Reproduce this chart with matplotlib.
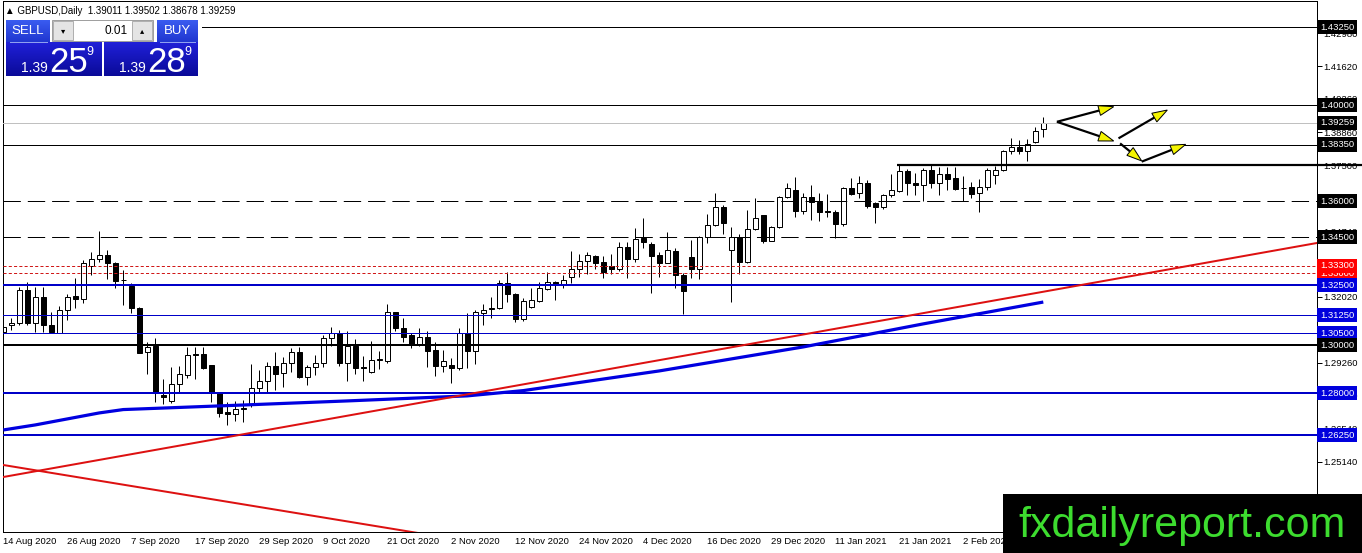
#GBPUSD daily chart, MT4 style, recreated with matplotlib
import numpy as np
import matplotlib
matplotlib.use('Agg')
import matplotlib.pyplot as plt
import matplotlib.font_manager as fm
from matplotlib.colors import LinearSegmentedColormap
from matplotlib.patches import Rectangle, Polygon
from matplotlib.transforms import blended_transform_factory

#Candles (14 Aug 2020 .. 16 Feb 2021)
opens = [1.3056, 1.3085, 1.3090, 1.3229, 1.3090, 1.3201, 1.3083, 1.3051, 1.3146, 1.3204,
         1.3190, 1.3329, 1.3357, 1.3375, 1.3343, 1.3272, 1.3246, 1.3153, 1.2969, 1.2996,
         1.2792, 1.2768, 1.2838, 1.2875, 1.2962, 1.2961, 1.2917, 1.2801, 1.2721, 1.2713,
         1.2733, 1.2749, 1.2819, 1.2851, 1.2913, 1.2882, 1.2924, 1.2969, 1.2868, 1.2907,
         1.2924, 1.3028, 1.3051, 1.2926, 1.2996, 1.2908, 1.2886, 1.2936, 1.2935, 1.3136,
         1.3069, 1.3042, 1.3004, 1.3032, 1.2979, 1.2914, 1.2917, 1.2906, 1.3049, 1.2976,
         1.3135, 1.3148, 1.3153, 1.3260, 1.3213, 1.3108, 1.3160, 1.3183, 1.3233, 1.3261,
         1.3250, 1.3285, 1.3317, 1.3350, 1.3372, 1.3344, 1.3329, 1.3317, 1.3410, 1.3357,
         1.3444, 1.3419, 1.3375, 1.3343, 1.3392, 1.3292, 1.3368, 1.3315, 1.3449, 1.3500,
         1.3574, 1.3396, 1.3451, 1.3347, 1.3482, 1.3542, 1.3435, 1.3490, 1.3615, 1.3646,
         1.3560, 1.3615, 1.3597, 1.3560, 1.3553, 1.3503, 1.3653, 1.3632, 1.3676, 1.3593,
         1.3574, 1.3625, 1.3643, 1.3726, 1.3674, 1.3667, 1.3729, 1.3676, 1.3713, 1.3694,
         1.3653, 1.3657, 1.3635, 1.3660, 1.3708, 1.3729, 1.3808, 1.3826, 1.3808, 1.3844,
         1.39011]
highs = [1.3132, 1.3111, 1.3243, 1.3264, 1.3243, 1.3243, 1.3139, 1.3163, 1.3213, 1.3278,
         1.3354, 1.3388, 1.3475, 1.3396, 1.3347, 1.3313, 1.3257, 1.3160, 1.3014, 1.3028,
         1.2857, 1.2910, 1.2913, 1.2993, 1.2993, 1.2993, 1.2917, 1.2806, 1.2764, 1.2768,
         1.2771, 1.2921, 1.2896, 1.2931, 1.2969, 1.2951, 1.2986, 1.2993, 1.2917, 1.2958,
         1.3042, 1.3074, 1.3063, 1.3060, 1.3024, 1.2954, 1.3017, 1.2975, 1.3171, 1.3138,
         1.3111, 1.3051, 1.3069, 1.3060, 1.3014, 1.2979, 1.2944, 1.3069, 1.3135, 1.3146,
         1.3169, 1.3199, 1.3271, 1.3306, 1.3215, 1.3194, 1.3236, 1.3261, 1.3303, 1.3267,
         1.3292, 1.3392, 1.3378, 1.3386, 1.3374, 1.3372, 1.3378, 1.3431, 1.3431, 1.3489,
         1.3531, 1.3431, 1.3386, 1.3469, 1.3406, 1.3299, 1.3438, 1.3454, 1.3546, 1.3632,
         1.3583, 1.3490, 1.3463, 1.3563, 1.3611, 1.3543, 1.3496, 1.3621, 1.3676, 1.3701,
         1.3635, 1.3667, 1.3632, 1.3629, 1.3563, 1.3660, 1.3694, 1.3704, 1.3688, 1.3595,
         1.3629, 1.3713, 1.3750, 1.3732, 1.3718, 1.3736, 1.3754, 1.3743, 1.3743, 1.3743,
         1.3704, 1.3681, 1.3690, 1.3736, 1.3746, 1.3813, 1.3861, 1.3854, 1.3857, 1.3910,
         1.39502]
lows = [1.3042, 1.3063, 1.3083, 1.3083, 1.3056, 1.3056, 1.3049, 1.3049, 1.3104, 1.3153,
        1.3174, 1.3292, 1.3347, 1.3274, 1.3236, 1.3167, 1.3132, 1.2965, 1.2879, 1.2764,
        1.2754, 1.2760, 1.2806, 1.2861, 1.2857, 1.2899, 1.2764, 1.2701, 1.2667, 1.2683,
        1.2678, 1.2743, 1.2799, 1.2801, 1.2813, 1.2826, 1.2889, 1.2861, 1.2833, 1.2875,
        1.2910, 1.2996, 1.2913, 1.2851, 1.2879, 1.2851, 1.2885, 1.2900, 1.2926, 1.3060,
        1.3014, 1.2986, 1.2996, 1.2907, 1.2871, 1.2889, 1.2843, 1.2896, 1.2906, 1.2921,
        1.3083, 1.3111, 1.3149, 1.3181, 1.3097, 1.3100, 1.3156, 1.3181, 1.3229, 1.3188,
        1.3239, 1.3257, 1.3285, 1.3294, 1.3317, 1.3281, 1.3294, 1.3308, 1.3278, 1.3347,
        1.3403, 1.3215, 1.3285, 1.3340, 1.3236, 1.3128, 1.3278, 1.3274, 1.3426, 1.3496,
        1.3463, 1.3181, 1.3296, 1.3343, 1.3479, 1.3426, 1.3433, 1.3486, 1.3611, 1.3535,
        1.3546, 1.3521, 1.3518, 1.3532, 1.3444, 1.3496, 1.3625, 1.3611, 1.3569, 1.3510,
        1.3565, 1.3618, 1.3639, 1.3625, 1.3625, 1.3601, 1.3653, 1.3625, 1.3646, 1.3646,
        1.3601, 1.3611, 1.3556, 1.3646, 1.3671, 1.3726, 1.3794, 1.3794, 1.3768, 1.3843,
        1.38678]
closes = [1.3076, 1.3090, 1.3229, 1.3090, 1.3201, 1.3083, 1.3056, 1.3146, 1.3201, 1.3190,
          1.3343, 1.3357, 1.3375, 1.3340, 1.3268, 1.3269, 1.3153, 1.2968, 1.2993, 1.2801,
          1.2782, 1.2836, 1.2878, 1.2958, 1.2958, 1.2903, 1.2799, 1.2718, 1.2713, 1.2732,
          1.2736, 1.2819, 1.2851, 1.2913, 1.2878, 1.2924, 1.2969, 1.2865, 1.2910, 1.2924,
          1.3028, 1.3051, 1.2926, 1.2996, 1.2903, 1.2904, 1.2938, 1.2940, 1.3136, 1.3069,
          1.3035, 1.3004, 1.3032, 1.2976, 1.2913, 1.2933, 1.2906, 1.3049, 1.2976, 1.3139,
          1.3146, 1.3153, 1.3260, 1.3211, 1.3107, 1.3183, 1.3188, 1.3236, 1.3261, 1.3250,
          1.3271, 1.3317, 1.3350, 1.3375, 1.3343, 1.3306, 1.3317, 1.3410, 1.3357, 1.3442,
          1.3428, 1.3372, 1.3343, 1.3396, 1.3292, 1.3226, 1.3317, 1.3449, 1.3500, 1.3574,
          1.3510, 1.3451, 1.3347, 1.3482, 1.3528, 1.3435, 1.3490, 1.3615, 1.3653, 1.3560,
          1.3615, 1.3597, 1.3556, 1.3556, 1.3503, 1.3653, 1.3628, 1.3676, 1.3579, 1.3574,
          1.3625, 1.3646, 1.3726, 1.3676, 1.3668, 1.3729, 1.3676, 1.3713, 1.3690, 1.3649,
          1.3656, 1.3629, 1.3660, 1.3729, 1.3729, 1.3808, 1.3824, 1.3808, 1.3836, 1.3893,
          1.39259]

date_labels = ['14 Aug 2020', '26 Aug 2020', '7 Sep 2020', '17 Sep 2020', '29 Sep 2020',
               '9 Oct 2020', '21 Oct 2020', '2 Nov 2020', '12 Nov 2020', '24 Nov 2020',
               '4 Dec 2020', '16 Dec 2020', '29 Dec 2020', '11 Jan 2021', '21 Jan 2021',
               '2 Feb 2021']
bars_per_label = 8

#Moving average read at a few bars
ma_bars = [0, 4, 12, 15, 30, 43, 58, 65, 82, 100, 115, 130]
ma_prices = [1.2646, 1.2667, 1.2717, 1.2731, 1.2750, 1.2767, 1.2788, 1.2810,
             1.2892, 1.2992, 1.3088, 1.3179]

#Trend lines (bar, price)
trend_up_bars = [0, 164.2]
trend_up_prices = [1.2450, 1.3425]
trend_down_bars = [0, 60]
trend_down_prices = [1.2500, 1.2172]

#Horizontal levels
black_levels = [1.4325, 1.4000, 1.3835]
dashed_levels = [1.3600, 1.3450]
red_levels = [1.3300, 1.3330]
blue_thick_levels = [1.3250, 1.2800, 1.2625]
blue_thin_levels = [1.3125, 1.3050]
black_thick_level = 1.3000
bid_price = 1.39259
resistance_level = 1.3750
resistance_start_bar = 111.7

#Price scale labels that show (the others sit under the level boxes)
axis_ticks = [1.4298, 1.4162, 1.4026, 1.3886, 1.3750, 1.3474,
              1.3202, 1.2926, 1.2790, 1.2654, 1.2514]

#Yellow arrows: tail -> tip (bar, price)
arrow_tails = [(131.7, 1.3930), (131.7, 1.3930), (139.4, 1.3861), (139.6, 1.3840), (142.3, 1.3764)]
arrow_tips = [(138.8, 1.3993), (138.8, 1.3850), (145.5, 1.3979), (142.3, 1.3767), (147.8, 1.3836)]

symbol = 'GBPUSD'
timeframe = 'Daily'
sell_price = '1.39259'
buy_price = '1.39289'
lot = '0.01'
watermark = 'fxdailyreport.com'


def has_font(name):
    """Check if a font family is installed"""
    try:
        fm.findfont(fm.FontProperties(family=name), fallback_to_default=False)
        return True
    except Exception:
        return False


def grad_box(ax, x0, y0, x1, y1, c_top, c_bot, z):
    """Vertical gradient rectangle in pixel coordinates"""
    cmap = LinearSegmentedColormap.from_list('g', [c_top, c_bot])
    ax.imshow(np.linspace(0, 1, 64).reshape(-1, 1), cmap=cmap, extent=(x0, x1, y1, y0),
              aspect='auto', interpolation='bilinear', zorder=z)


def main():
    plt.rcParams['font.family'] = ['Liberation Sans', 'DejaVu Sans']
    plt.rcParams['lines.scale_dashes'] = False
    W, H = 1362, 553
    px = 0.72  #one pixel in points at dpi 100

    fig = plt.figure(figsize=(W / 100, H / 100), dpi=100, facecolor='white')
    left, right, top, bottom = 3, 1317, 1, 532
    ax = fig.add_axes([left / W, (H - bottom) / H, (right - left) / W, (bottom - top) / H])

    y_of = lambda ypx: 1.3 + (345 - ypx) / 2400.0
    x_of = lambda xpx: (xpx - 3.3) / 8.0
    ax.set_xlim(x_of(left), x_of(right))
    ax.set_ylim(y_of(bottom), y_of(top))

    o = np.array(opens); h = np.array(highs); l = np.array(lows); c = np.array(closes)
    x = np.arange(len(o))
    up = c >= o

    #Candles
    ax.vlines(x, l, h, color='black', lw=px, zorder=2)
    body_h = np.maximum(np.abs(c - o), 0.00003)
    ax.bar(x, body_h, bottom=np.minimum(o, c), width=0.62,
           color=np.where(up, 'white', 'black'), edgecolor='black', linewidth=px, zorder=2.1)

    #Levels
    for lv in black_levels:
        ax.axhline(lv, color='black', lw=px, zorder=3)
    ax.axhline(bid_price, color='#c0c0c0', lw=px, zorder=3)
    for lv in dashed_levels:
        ax.axhline(lv, color='black', lw=px, ls=(0, (12.5, 5.0)), zorder=3)
    for lv in red_levels:
        ax.axhline(lv, color='#d01818', lw=px, ls=(0, (2.2, 1.6)), zorder=3)
    for lv in blue_thick_levels:
        ax.axhline(lv, color='#0000c8', lw=2 * px, zorder=3)
    for lv in blue_thin_levels:
        ax.axhline(lv, color='#0000c8', lw=px, zorder=3)
    ax.axhline(black_thick_level, color='black', lw=2 * px, zorder=3)
    ax.plot([resistance_start_bar, x_of(W + 2)], [resistance_level] * 2, color='black',
            lw=2.2 * px, clip_on=False, zorder=3, solid_capstyle='butt')

    #Trend lines and moving average
    ax.plot(trend_up_bars, trend_up_prices, color='#dd1111', lw=2 * px, zorder=3.2)
    ax.plot(trend_down_bars, trend_down_prices, color='#dd1111', lw=2 * px, zorder=3.2)
    ax.plot(ma_bars, ma_prices, color='#0000e0', lw=3.2 * px, zorder=3.1,
            solid_capstyle='butt')

    #Arrows
    inv = ax.transData.inverted()
    for (tb, tp), (hb, hp) in zip(arrow_tails, arrow_tips):
        p0 = ax.transData.transform((tb, tp))
        p1 = ax.transData.transform((hb, hp))
        d = p1 - p0
        u = d / np.hypot(*d)
        n = np.array([-u[1], u[0]])
        hl, hw = 15.0, 5.0
        base = p1 - u * hl
        ax.plot(*inv.transform(np.array([p0, base])).T, color='black', lw=2.2 * px, zorder=4,
                solid_capstyle='butt')
        tri = inv.transform(np.array([p1, base + n * hw, base - n * hw]))
        ax.add_patch(Polygon(tri, closed=True, fc='#f5f500', ec='black', lw=px, zorder=4.1))

    #Axes look
    for s in ax.spines.values():
        s.set_linewidth(px)
        s.set_color('black')
    ax.yaxis.tick_right()
    ax.set_yticks(axis_ticks)
    ax.set_yticklabels(['%.5f' % t for t in axis_ticks])
    ax.tick_params(axis='y', direction='out', length=3.5, width=px, labelsize=6.8, pad=1.2,
                   colors='black')
    ax.set_xticks(np.arange(len(date_labels)) * bars_per_label)
    ax.set_xticklabels(date_labels, ha='left')
    ax.tick_params(axis='x', length=0, labelsize=6.8, pad=3.5, colors='black')

    #Price boxes on the axis
    trans = blended_transform_factory(ax.transAxes, ax.transData)
    boxes = [(lv, 'black') for lv in black_levels] + [(bid_price, 'black')] + \
            [(lv, 'black') for lv in dashed_levels] + [(lv, '#ff0000') for lv in red_levels] + \
            [(lv, '#0000dd') for lv in blue_thick_levels + blue_thin_levels] + \
            [(black_thick_level, 'black')]
    for lv, col in boxes:
        ax.text(1.0022, lv, '%.5f' % lv, transform=trans, ha='left', va='center', fontsize=6.8,
                color='white', zorder=6,
                bbox=dict(boxstyle='square,pad=0.28', fc=col, ec='none'))

    #Overlay in pixel coordinates: title, trade panel, watermark
    ov = fig.add_axes([0, 0, 1, 1], zorder=10)
    ov.patch.set_alpha(0)
    ov.axis('off')

    narrow = 'Liberation Sans Narrow' if has_font('Liberation Sans Narrow') else None
    pfam = [narrow, 'Liberation Sans', 'DejaVu Sans'] if narrow else ['Liberation Sans', 'DejaVu Sans']

    ov.text(5, 11, '\u25b2 %s,%s  %.5f %.5f %.5f %.5f' % (symbol, timeframe, opens[-1], highs[-1],
            lows[-1], closes[-1]), fontsize=7, va='center', ha='left', color='black',
            family=['Liberation Sans', 'DejaVu Sans'])

    ov.add_patch(Rectangle((4, 18), 198, 60, fc='white', ec='none', zorder=1))
    grad_box(ov, 6, 20, 50, 42, '#3a5cf0', '#2036d0', 2)
    grad_box(ov, 157, 20, 198, 42, '#3a5cf0', '#2036d0', 2)
    grad_box(ov, 6, 42, 102, 76, '#2020d8', '#0a0a98', 2)
    grad_box(ov, 104, 42, 198, 76, '#2020d8', '#0a0a98', 2)
    ov.plot([10, 47], [41.5, 41.5], color='#8fa0f0', lw=px, zorder=3)
    ov.plot([160, 195], [41.5, 41.5], color='#8fa0f0', lw=px, zorder=3)
    ov.add_patch(Rectangle((52, 20), 101, 21, fc='white', ec='#a0a0a0', lw=px, zorder=2))
    ov.add_patch(Rectangle((53, 21), 20, 19, fc='#e4e4e4', ec='#b0b0b0', lw=px, zorder=3))
    ov.add_patch(Rectangle((132, 21), 20, 19, fc='#e4e4e4', ec='#b0b0b0', lw=px, zorder=3))
    ov.text(63, 30.5, '\u25be', fontsize=6, ha='center', va='center', family=['DejaVu Sans'], zorder=4)
    ov.text(142, 30.5, '\u25b4', fontsize=6, ha='center', va='center', family=['DejaVu Sans'], zorder=4)
    ov.text(128, 31, lot, fontsize=8.5, ha='right', va='center', color='black', family=pfam, zorder=4)
    ov.text(28, 31, 'SELL', fontsize=9.5, ha='center', va='center', color='white', family=pfam, zorder=4)
    ov.text(177, 31, 'BUY', fontsize=9.5, ha='center', va='center', color='white', family=pfam, zorder=4)

    for x0, price in [(21, sell_price), (119, buy_price)]:
        ov.text(x0, 72, price[:4], fontsize=10, ha='left', va='baseline', color='white',
                family=pfam, zorder=4)
        ov.text(x0 + 28, 72.5, price[4:6], fontsize=25, ha='left', va='baseline', color='white',
                family=pfam, zorder=4)
        ov.text(x0 + 65, 55, price[6], fontsize=9, ha='left', va='baseline', color='white',
                family=pfam, zorder=4)

    ov.add_patch(Rectangle((1003, 494), W - 1003, H - 494, fc='black', ec='none', zorder=5))
    ov.text(1182, 537, watermark, fontsize=36 if narrow else 31, ha='center', va='baseline',
            color='#3ddc2f', family=pfam, zorder=6)

    ov.set_xlim(0, W)
    ov.set_ylim(H, 0)

    fig.savefig('out.png', dpi=100, facecolor='white')


main()
